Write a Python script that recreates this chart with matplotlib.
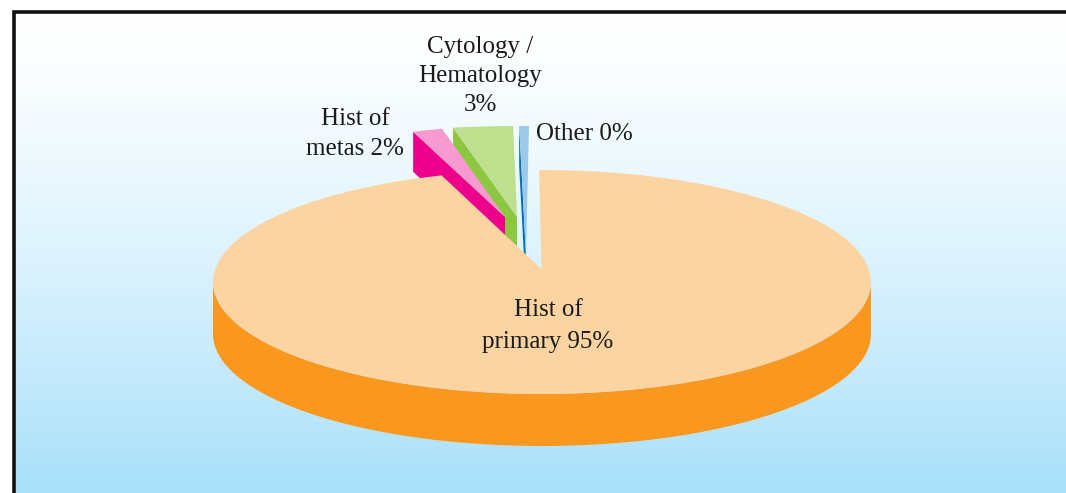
import numpy as np
import matplotlib.pyplot as plt
from matplotlib.patches import Polygon

categories = ['Hist of primary', 'Hist of metas', 'Cytology / Hematology', 'Other']
shares = [95.2, 1.9, 2.6, 0.3]
labels = ['Hist of\nprimary 95%', 'Hist of\nmetas 2%', 'Cytology /\nHematology\n3%', 'Other 0%']

top_colors = ['#FBD4A2', '#F79AD0', '#BDDF8E', '#9CC9EA']
side_colors = ['#F9971E', '#EC008C', '#8DC63F', '#0072BC']

plt.rcParams['font.family'] = ['Liberation Serif', 'DejaVu Serif']

fig = plt.figure(figsize=(10.66, 4.93), dpi=100)
ax = fig.add_axes([0, 0, 1, 1])

# background gradient inside the frame
t = np.linspace(0, 1, 256) ** 1.35
grad = np.zeros((256, 1, 3))
grad[:, 0, 0] = 1 + (168 / 255 - 1) * t
grad[:, 0, 1] = 1 + (224 / 255 - 1) * t
grad[:, 0, 2] = 1 + (250 / 255 - 1) * t
ax.imshow(grad, extent=[15, 1066, 493, 13], aspect='auto', zorder=0)
ax.set_xlim(0, 1066)
ax.set_ylim(493, 0)
ax.axis('off')
ax.plot([14, 14, 1066], [493, 12, 12], color='#111111', lw=2.6, solid_joinstyle='miter', zorder=1)

start_angle = -0.5
spans = np.array(shares) / sum(shares) * 360

# each slice has its own arc centre, radii and tip because of the exploded look
main_geo = dict(cx=542, cy=282, rx=329, ry=112, tip=(541.5, 269))
slice_geo = {
    1: dict(cx=489.5, cy=227, rx=250, ry=100, tip=(505, 217)),
    2: dict(cx=523.3, cy=216, rx=370, ry=90, tip=(517, 217)),
    3: dict(cx=533.5, cy=255, rx=520, ry=129, tip=(526, 255)),
}
side_depth = 40
main_depth = 52


def arc(g, a, b, n=80):
    t = np.radians(np.linspace(a, b, n))
    return np.column_stack([g['cx'] + g['rx'] * np.sin(t), g['cy'] - g['ry'] * np.cos(t)])


angles = start_angle + np.cumsum(spans)
slice_range = {1: (angles[0], angles[1]), 2: (angles[1], angles[2]), 3: (angles[2], angles[3])}

# back to front: Other, Cytology, metas
for i in [3, 2, 1]:
    g = slice_geo[i]
    a, b = slice_range[i]
    pts = arc(g, a, b)
    corner = pts[0]  # left corner, the cut face hangs from this edge
    tip = np.array(g['tip'])
    side = np.array([corner, tip, tip + [0, side_depth], corner + [0, side_depth]])
    ax.add_patch(Polygon(side, closed=True, fc=side_colors[i], ec='none', zorder=3))
    ax.add_patch(Polygon(np.vstack([tip, pts]), closed=True, fc=top_colors[i], ec='none', zorder=3))

# big slice: side first, then the top face over it
g = main_geo
lower = arc(g, 90, 270)
side = np.vstack([lower, (lower + [0, main_depth])[::-1]])
ax.add_patch(Polygon(side, closed=True, fc=side_colors[0], ec='none', zorder=4))
top = np.vstack([g['tip'], arc(g, start_angle, angles[0])])
ax.add_patch(Polygon(top, closed=True, fc=top_colors[0], ec='none', zorder=5))

txt = dict(fontsize=18, color='#1a1a1a', ha='center', va='center', zorder=6)
ax.text(548, 326, labels[0], linespacing=1.55, **txt)
ax.text(355, 134, labels[1], linespacing=1.5, **txt)
ax.text(480, 76, labels[2], linespacing=1.43, **txt)
ax.text(584, 134, labels[3], **txt)

fig.savefig('out.png', dpi=100)
